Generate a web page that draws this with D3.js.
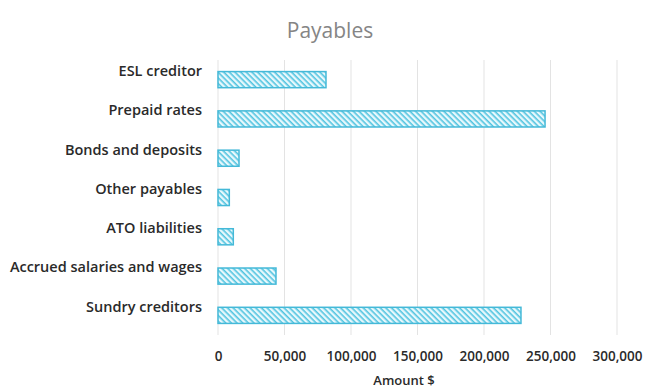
<!DOCTYPE html>
<html>
<head>
<meta charset="utf-8">
<script src="https://cdn.jsdelivr.net/npm/d3@7"></script>
<style>
  html, body { margin: 0; padding: 0; background: #fff; }
  svg { display: block; }
</style>
</head>
<body>
<svg id="chart" width="646" height="390"></svg>
<script>
// Payables by category (amounts in $)
const categories = [
  "ESL creditor",
  "Prepaid rates",
  "Bonds and deposits",
  "Other payables",
  "ATO liabilities",
  "Accrued salaries and wages",
  "Sundry creditors"
];
const amounts = [81200, 245900, 15800, 8500, 11500, 43600, 227800];
const xTicks = [0, 50000, 100000, 150000, 200000, 250000, 300000];

const W = 646, H = 390;
const margin = { top: 60, right: 28, bottom: 56, left: 218 };
const svg = d3.select("#chart");
const font = "'Open Sans', Lato, sans-serif";

// Diagonal hatch used for the bars
const defs = svg.append("defs");
const pat = defs.append("pattern")
  .attr("id", "hatch")
  .attr("patternUnits", "userSpaceOnUse")
  .attr("width", 4).attr("height", 4)
  .attr("patternTransform", "rotate(45)");
pat.append("rect").attr("width", 4).attr("height", 4).attr("fill", "#e8f8fc");
pat.append("rect").attr("width", 4).attr("height", 1.6).attr("fill", "#52c4e0");

const x = d3.scaleLinear()
  .domain([0, 300000])
  .range([margin.left, margin.left + 399]);

const y = d3.scaleBand()
  .domain(categories)
  .range([margin.top, H - margin.bottom + 1])
  .paddingInner(0.59)
  .paddingOuter(0.295);

// Vertical gridlines
svg.append("g")
  .selectAll("line")
  .data(xTicks)
  .join("line")
  .attr("x1", d => x(d)).attr("x2", d => x(d))
  .attr("y1", margin.top).attr("y2", H - margin.bottom + 1)
  .attr("stroke", "#e3e3e3")
  .attr("stroke-width", 1);

// Bars
svg.append("g")
  .selectAll("rect")
  .data(categories.map((c, i) => ({ c, v: amounts[i] })))
  .join("rect")
  .attr("x", x(0))
  .attr("y", d => y(d.c))
  .attr("width", d => x(d.v) - x(0))
  .attr("height", y.bandwidth())
  .attr("fill", "url(#hatch)")
  .attr("stroke", "#44b9d8")
  .attr("stroke-width", 1.5);

// Category axis (labels only)
const yAxis = svg.append("g")
  .attr("transform", `translate(${margin.left - 16},0)`)
  .call(d3.axisLeft(y).tickSize(0).tickPadding(0));
yAxis.select(".domain").remove();
yAxis.selectAll("text")
  .attr("font-family", font)
  .attr("font-size", 14.5)
  .attr("font-weight", 600)
  .attr("fill", "#2a2a2a")
  .attr("dy", "-0.25em");

// Value axis
const xAxis = svg.append("g")
  .attr("transform", `translate(0,${H - margin.bottom + 1})`)
  .call(d3.axisBottom(x).tickValues(xTicks).tickSize(0).tickPadding(16)
    .tickFormat(d3.format(",")));
xAxis.select(".domain").remove();
xAxis.selectAll("text")
  .attr("font-family", font)
  .attr("font-size", 13.5)
  .attr("font-weight", 600)
  .attr("fill", "#2a2a2a");

// Axis title
svg.append("text")
  .attr("x", 404).attr("y", 385)
  .attr("text-anchor", "middle")
  .attr("font-family", font)
  .attr("font-size", 13)
  .attr("font-weight", 600)
  .attr("fill", "#2a2a2a")
  .text("Amount $");

// Chart title
svg.append("text")
  .attr("x", 330).attr("y", 38)
  .attr("text-anchor", "middle")
  .attr("font-family", font)
  .attr("font-size", 21)
  .attr("fill", "#858585")
  .text("Payables");
</script>
</body>
</html>
